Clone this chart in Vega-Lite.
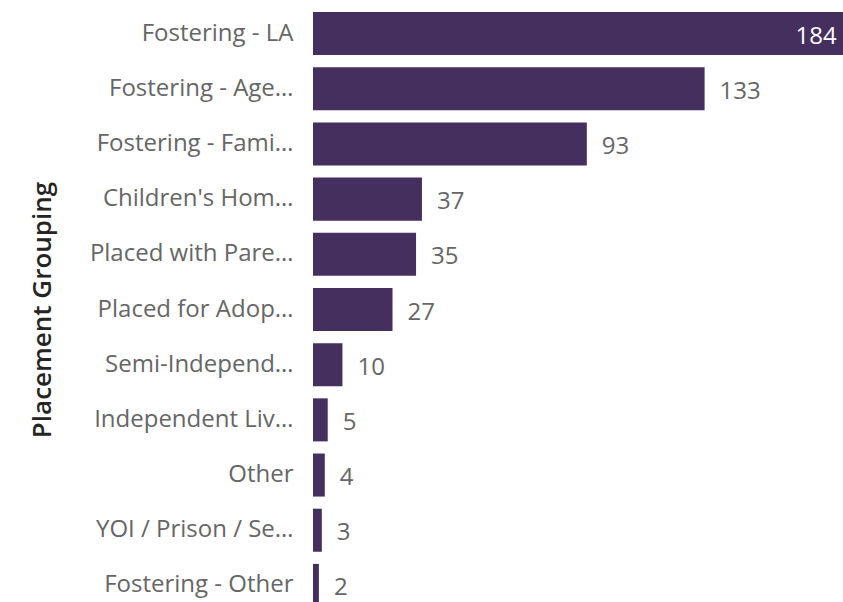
{
  "$schema": "https://vega.github.io/schema/vega-lite/v6.json",
  "autosize": {"type": "none"},
  "padding": {"left": 313, "top": 6, "right": 0, "bottom": 0},
  "width": 530,
  "height": 607,
  "background": "white",
  "config": {"view": {"stroke": null}, "font": "Open Sans"},
  "data": {
    "values": [
      {"group": "Fostering - LA", "count": 184},
      {"group": "Fostering - Age…", "count": 133},
      {"group": "Fostering - Fami…", "count": 93},
      {"group": "Children's Hom…", "count": 37},
      {"group": "Placed with Pare…", "count": 35},
      {"group": "Placed for Adop…", "count": 27},
      {"group": "Semi-Independ…", "count": 10},
      {"group": "Independent Liv…", "count": 5},
      {"group": "Other", "count": 4},
      {"group": "YOI / Prison / Se…", "count": 3},
      {"group": "Fostering - Other", "count": 2}
    ]
  },
  "encoding": {
    "y": {
      "field": "group",
      "type": "nominal",
      "sort": null,
      "scale": {"paddingInner": 0.22, "paddingOuter": 0.11},
      "axis": {
        "title": "Placement Grouping",
        "titleFont": "Open Sans",
        "titleFontSize": 26,
        "titleFontWeight": 600,
        "titleColor": "#252423",
        "titleX": -271,
        "titleAngle": -90,
        "titleBaseline": "middle",
        "labelFont": "Open Sans",
        "labelFontSize": 24,
        "labelColor": "#666666",
        "labelPadding": 20,
        "labelLimit": 300,
        "ticks": false,
        "domain": false,
        "grid": false
      }
    },
    "x": {
      "field": "count",
      "type": "quantitative",
      "scale": {"domain": [0, 180], "nice": false, "clamp": false},
      "axis": null
    }
  },
  "layer": [
    {"mark": {"type": "bar", "color": "#442F5F", "clip": true}},
    {
      "transform": [{"filter": "datum.count < 150"}],
      "mark": {"type": "text", "align": "left", "baseline": "middle", "dx": 15, "dy": 3, "fontSize": 24, "color": "#666666", "font": "Open Sans"},
      "encoding": {"text": {"field": "count", "type": "quantitative"}}
    },
    {
      "transform": [{"filter": "datum.count >= 150"}],
      "mark": {"type": "text", "align": "right", "baseline": "middle", "dx": -18, "dy": 3, "fontSize": 24, "color": "#ffffff", "font": "Open Sans"},
      "encoding": {"text": {"field": "count", "type": "quantitative"}}
    }
  ]
}
